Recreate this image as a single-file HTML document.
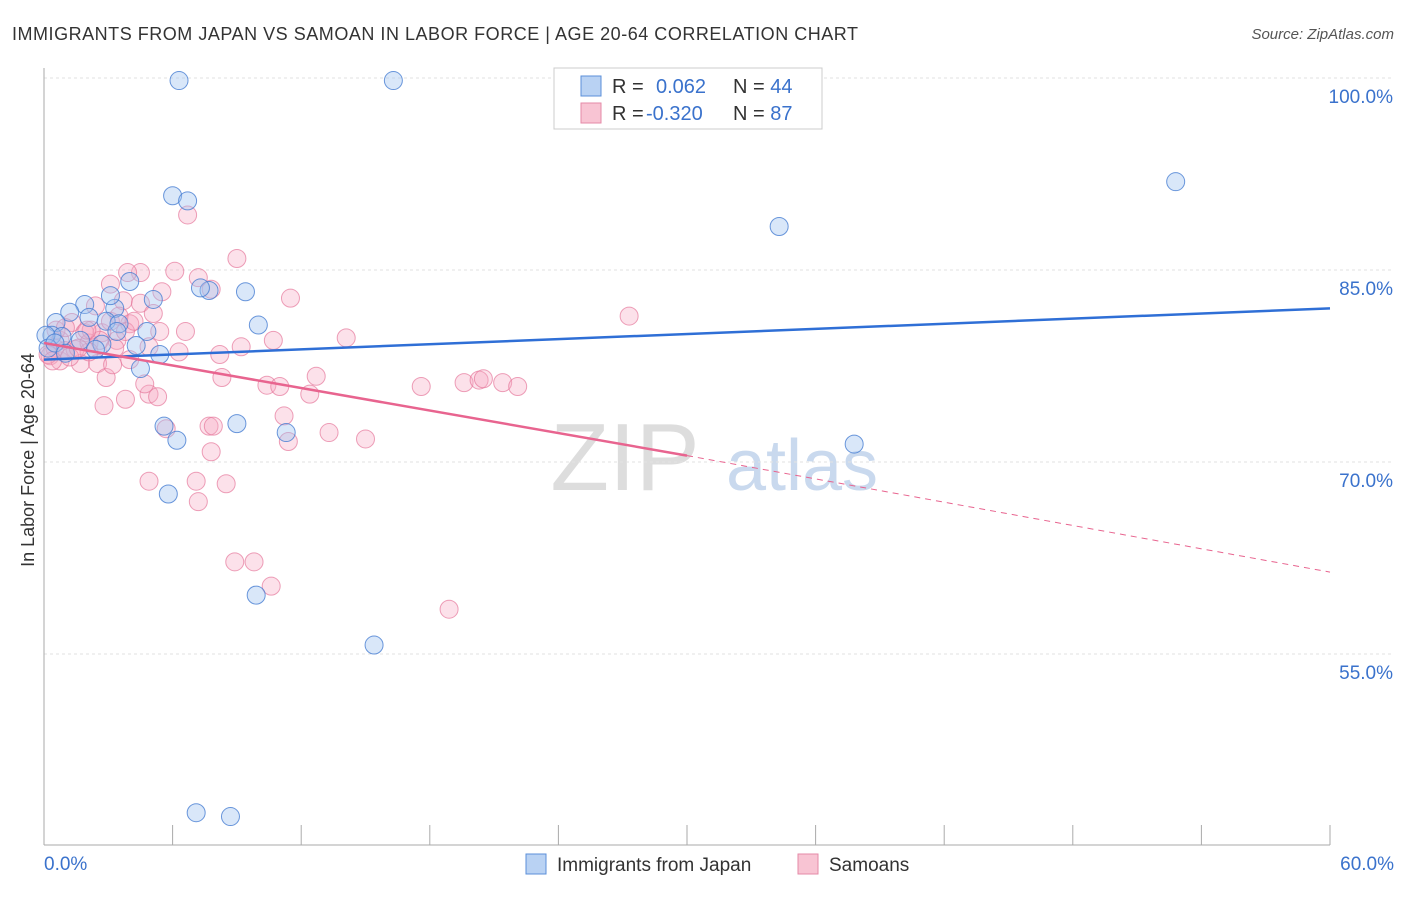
<!DOCTYPE html>
<html><head><meta charset="utf-8"><style>
body{margin:0;background:#fff;font-family:"Liberation Sans",sans-serif;}
svg text{font-family:"Liberation Sans",sans-serif;}
</style></head><body>
<svg id="c" width="1406" height="892" viewBox="0 0 1406 892">
<text x="12" y="40" font-size="18" fill="#333" textLength="846" lengthAdjust="spacing">IMMIGRANTS FROM JAPAN VS SAMOAN IN LABOR FORCE | AGE 20-64 CORRELATION CHART</text>
<text x="1394" y="39" font-size="15" fill="#555" font-style="italic" text-anchor="end">Source: ZipAtlas.com</text>
<text x="34" y="460" font-size="18" fill="#333" text-anchor="middle" transform="rotate(-90 34 460)">In Labor Force | Age 20-64</text>
<text x="625" y="490" font-size="96" fill="#ddd" font-family="Liberation Serif" text-anchor="middle">ZIP</text>
<text x="802" y="490" font-size="72" fill="#c9d9ee" text-anchor="middle">atlas</text>
<g id="grid"></g><g id="marks"></g><g id="lines"></g>
<g>
<rect x="554" y="68" width="268" height="61" fill="#fff" stroke="#ccc"/>
<rect x="581" y="76" width="20" height="20" fill="#b9d2f3" stroke="#5b8fd8"/>
<rect x="581" y="103" width="20" height="20" fill="#f8c4d3" stroke="#e58aa7"/>
<text x="612" y="93" font-size="20" fill="#333">R = <tspan fill="#3a72cc" x="656">0.062</tspan><tspan fill="#333" x="733">N = </tspan><tspan fill="#3a72cc">44</tspan></text>
<text x="612" y="120" font-size="20" fill="#333">R = <tspan fill="#3a72cc" x="646">-0.320</tspan><tspan fill="#333" x="733">N = </tspan><tspan fill="#3a72cc">87</tspan></text>
</g>
<g>
<rect x="526" y="854" width="20" height="20" fill="#b9d2f3" stroke="#5b8fd8"/>
<text x="557" y="871" font-size="19" fill="#333">Immigrants from Japan</text>
<rect x="798" y="854" width="20" height="20" fill="#f8c4d3" stroke="#e58aa7"/>
<text x="829" y="871" font-size="19" fill="#333">Samoans</text>
</g>
</svg>
<script>
const yTicks=[100,85,70,55];
const xTickLabels=["0.0%","60.0%"];
const japanX=[6.3,16.3,52.8,34.3,6.0,6.7,7.7,9.4,4.0,5.1,1.9,3.3,1.2,2.1,0.56,2.9,3.5,4.8,10.0,0.37,0.84,0.09,2.7,4.3,5.4,4.5,5.6,6.2,9.0,11.3,37.8,5.8,9.9,15.4,7.1,8.7,0.19,1.7,3.4,2.4,0.51,1.0,3.1,7.3];
const japanY=[99.8,99.8,91.9,88.4,90.8,90.4,83.4,83.3,84.1,82.7,82.3,82.0,81.7,81.3,80.9,81.0,80.8,80.2,80.7,79.9,79.8,79.9,79.2,79.1,78.4,77.3,72.8,71.7,73.0,72.3,71.4,67.5,59.6,55.7,42.6,42.3,78.9,79.5,80.2,78.8,79.3,78.5,83.0,83.6];
const samoanX=[6.7,9.0,4.5,3.9,6.1,7.2,7.8,3.1,5.5,11.5,3.7,2.4,4.5,5.1,4.0,6.6,27.3,14.1,10.7,9.2,1.3,2.7,1.9,0.75,3.4,4.9,6.3,8.2,0.28,0.75,1.7,2.5,2.9,8.3,12.7,10.4,11.0,17.6,19.6,20.3,20.5,21.4,22.1,12.4,3.8,2.8,4.9,5.3,11.2,7.7,7.9,5.7,13.3,15.0,11.4,7.8,4.9,7.1,8.5,7.2,8.9,9.8,10.6,18.9,0.51,0.98,1.45,2.1,2.6,3.3,0.19,1.2,2.1,3.8,4.2,5.4,0.56,1.0,1.6,2.2,3.1,3.5,4.0,4.7,3.2,0.4,2.0];
const samoanY=[89.3,85.9,84.8,84.8,84.9,84.4,83.5,83.9,83.3,82.8,82.6,82.2,82.4,81.6,80.8,80.2,81.4,79.7,79.5,79.0,80.9,80.1,80.1,79.5,79.5,79.0,78.6,78.4,78.3,77.9,77.7,77.7,76.6,76.6,76.7,76.0,75.9,75.9,76.2,76.4,76.5,76.2,75.9,75.3,74.9,74.4,75.3,75.1,73.6,72.8,72.8,72.6,72.3,71.8,71.6,70.8,68.5,68.5,68.3,66.9,62.2,62.2,60.3,58.5,78.9,78.7,78.8,79.3,79.5,78.9,78.4,78.2,78.6,80.2,81.0,80.2,80.3,80.5,78.9,80.3,81.0,81.4,78.0,76.1,77.6,77.9,80.3];
const japanTrend=[78.0,82.0];
const samoanTrend=[79.3,70.5,61.4];
const X=v=>44+v/60*1286, Y=v=>78+(100-v)/15*192;
const NS="http://www.w3.org/2000/svg";
function mk(t,a,p){const e=document.createElementNS(NS,t);for(const k in a)e.setAttribute(k,a[k]);p.appendChild(e);return e;}
const grid=document.getElementById('grid'),marks=document.getElementById('marks'),lines=document.getElementById('lines');
yTicks.forEach(t=>{
 const l=mk('line',{x1:44,x2:1394,y1:Y(t),y2:Y(t),stroke:'#e2e2e2','stroke-dasharray':'3,3'},grid);
 
 
 const tx=mk('text',{x:1393,y:Y(t)+25,'font-size':19,fill:'#3a72cc','text-anchor':'end'},grid);tx.textContent=t.toFixed(1)+'%';
 
 
});
const ax=mk('line',{x1:44,x2:44,y1:68,y2:845,stroke:'#aaa'},grid);


const bx=mk('line',{x1:44,x2:1330,y1:845,y2:845,stroke:'#aaa'},grid);


for(let i=0;i<=10;i++){const t=mk('line',{x1:X(i*6),x2:X(i*6),y1:825,y2:845,stroke:'#aaa'},grid);
 
 }
[[0,'start',44],[60,'end',1394]].forEach((d,i)=>{const t=mk('text',{x:d[2],y:870,'font-size':19,fill:'#3a72cc','text-anchor':d[1]},grid);t.textContent=xTickLabels[i];
 
 });
samoanX.forEach((x,i)=>{const c=mk('circle',{cx:X(x),cy:Y(samoanY[i]),r:9,fill:'rgba(246,170,195,0.35)',stroke:'rgba(230,120,155,0.7)','stroke-width':1},marks);
 
 });
japanX.forEach((x,i)=>{const c=mk('circle',{cx:X(x),cy:Y(japanY[i]),r:9,fill:'rgba(160,195,240,0.4)',stroke:'rgba(70,125,210,0.8)','stroke-width':1},marks);
 
 });
const jl=mk('line',{x1:X(0),y1:Y(japanTrend[0]),x2:X(60),y2:Y(japanTrend[1]),stroke:'#2f6fd6','stroke-width':2.5},lines);


const sl=mk('line',{x1:X(0),y1:Y(samoanTrend[0]),x2:X(30),y2:Y(samoanTrend[1]),stroke:'#e8648f','stroke-width':2.5},lines);


const sd=mk('line',{x1:X(30),y1:Y(samoanTrend[1]),x2:X(60),y2:Y(samoanTrend[2]),stroke:'#e8648f','stroke-width':1,'stroke-dasharray':'6,5'},lines);


</script>
</body></html>
